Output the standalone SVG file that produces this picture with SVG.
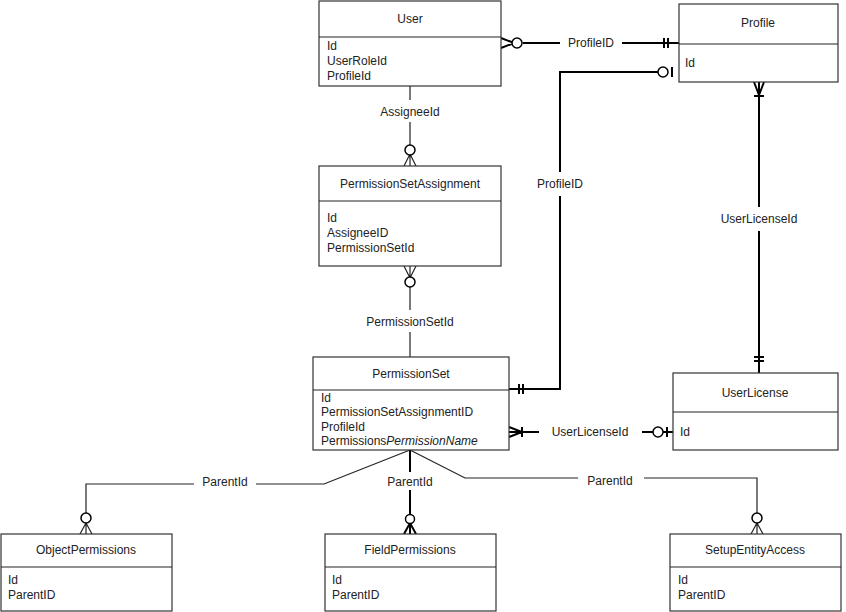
<svg xmlns="http://www.w3.org/2000/svg" width="846" height="612" viewBox="0 0 846 612">
<style>
.box{fill:#fff;stroke:#333;stroke-width:1.2}
.t{font-family:"Liberation Sans",Arial,sans-serif;font-size:12px;fill:#222}
.c{text-anchor:middle}
.ln{fill:none;stroke:#222;stroke-width:1.2}
.bk{fill:none;stroke:#000;stroke-width:2}
.ci{fill:#fff;stroke:#000;stroke-width:1.5}
.lb{font-family:"Liberation Sans",Arial,sans-serif;font-size:12px;fill:#222;text-anchor:middle}
</style>
<rect width="846" height="612" fill="#fff"/>
<g id="connectors">
<!-- User-Profile -->
<path class="bk" d="M523 43H560M622 43H679M664 38V48M668 38V48M501 38L514 43L501 48"/>
<circle class="ci" cx="517" cy="43" r="5"/>
<text class="lb" x="591" y="47">ProfileID</text>
<!-- PS-Profile -->
<path class="bk" d="M509 389H560V196M560 172V72H658M519 384V394M523 384V394M672 67V77"/>
<circle class="ci" cx="663" cy="72" r="5"/>
<text class="lb" x="560" y="188">ProfileID</text>
<!-- Profile-UserLicense -->
<path class="bk" d="M759 82V207M759 231V373M754 96H764M754 357H764M754 361H764M754 82L759 95L764 82"/>
<text class="lb" x="759" y="223">UserLicenseId</text>
<!-- User-PSA -->
<path class="ln" d="M410 86V100M410 122V145M404 166L410 154L416 166M410 154V166"/>
<circle class="ci" cx="410" cy="150" r="5"/>
<text class="lb" x="410" y="116">AssigneeId</text>
<!-- PSA-PS -->
<path class="ln" d="M404 266L410 278L416 266M410 266V277M410 287V310M410 332V357"/>
<circle class="ci" cx="410" cy="282" r="5"/>
<text class="lb" x="410" y="326">PermissionSetId</text>
<!-- PS-UserLicense -->
<path class="bk" d="M509 427L522 432L509 437M509 432H539M522 427V437M642 432H653M663 432H673M667 427V437"/>
<circle class="ci" cx="658" cy="432" r="5"/>
<text class="lb" x="590" y="436">UserLicenseId</text>
<!-- PS-ObjectPermissions -->
<path class="ln" d="M410 450L324 484H256M194 484H86V513M80 534L86 523L92 534M86 523V534"/>
<circle class="ci" cx="86" cy="518" r="5"/>
<text class="lb" x="225" y="486">ParentId</text>
<!-- PS-FieldPermissions -->
<path class="bk" d="M410 450V472M410 490V514M404 534L410 523L416 534M410 523V534"/>
<circle class="ci" cx="410" cy="519" r="4.5" stroke-width="2.5"/>
<text class="lb" x="410" y="486">ParentId</text>
<!-- PS-Setup -->
<path class="ln" d="M410 450L465 478H578M644 478H757V513M751 534L757 523L763 534M757 523V534"/>
<circle class="ci" cx="757" cy="518" r="5"/>
<text class="lb" x="610" y="485">ParentId</text>
</g>
<g id="User"><rect class="box" x="319" y="1" width="182" height="85"/><path class="ln" d="M319 37H501"/>
<text class="t c" x="410" y="23">User</text><text class="t" x="327" y="50">Id</text><text class="t" x="327" y="65">UserRoleId</text><text class="t" x="327" y="80">ProfileId</text></g>
<g id="Profile"><rect class="box" x="679" y="4" width="159" height="78"/><path class="ln" d="M679 44H838"/>
<text class="t c" x="758" y="27">Profile</text><text class="t" x="685" y="67">Id</text></g>
<g id="PermissionSetAssignment"><rect class="box" x="319" y="166" width="182" height="100"/><path class="ln" d="M319 201H501"/>
<text class="t c" x="410" y="188">PermissionSetAssignment</text><text class="t" x="327" y="222">Id</text><text class="t" x="327" y="237">AssigneeID</text><text class="t" x="327" y="252">PermissionSetId</text></g>
<g id="PermissionSet"><rect class="box" x="313" y="357" width="196" height="93"/><path class="ln" d="M313 390H509"/>
<text class="t c" x="411" y="378">PermissionSet</text><text class="t" x="321" y="402">Id</text><text class="t" x="321" y="416">PermissionSetAssignmentID</text><text class="t" x="321" y="431">ProfileId</text><text class="t" x="321" y="445">Permissions<tspan font-style="italic">PermissionName</tspan></text></g>
<g id="UserLicense"><rect class="box" x="673" y="373" width="165" height="77"/><path class="ln" d="M673 412H838"/>
<text class="t c" x="755" y="397">UserLicense</text><text class="t" x="680" y="436">Id</text></g>
<g id="ObjectPermissions"><rect class="box" x="1" y="534" width="171" height="77"/><path class="ln" d="M1 567H172"/>
<text class="t c" x="86" y="554">ObjectPermissions</text><text class="t" x="8" y="584">Id</text><text class="t" x="8" y="599">ParentID</text></g>
<g id="FieldPermissions"><rect class="box" x="325" y="534" width="171" height="77"/><path class="ln" d="M325 567H496"/>
<text class="t c" x="410" y="554">FieldPermissions</text><text class="t" x="332" y="584">Id</text><text class="t" x="332" y="599">ParentID</text></g>
<g id="SetupEntityAccess"><rect class="box" x="670" y="534" width="171" height="77"/><path class="ln" d="M670 567H841"/>
<text class="t c" x="755" y="554">SetupEntityAccess</text><text class="t" x="678" y="584">Id</text><text class="t" x="678" y="599">ParentID</text></g>
</svg>
